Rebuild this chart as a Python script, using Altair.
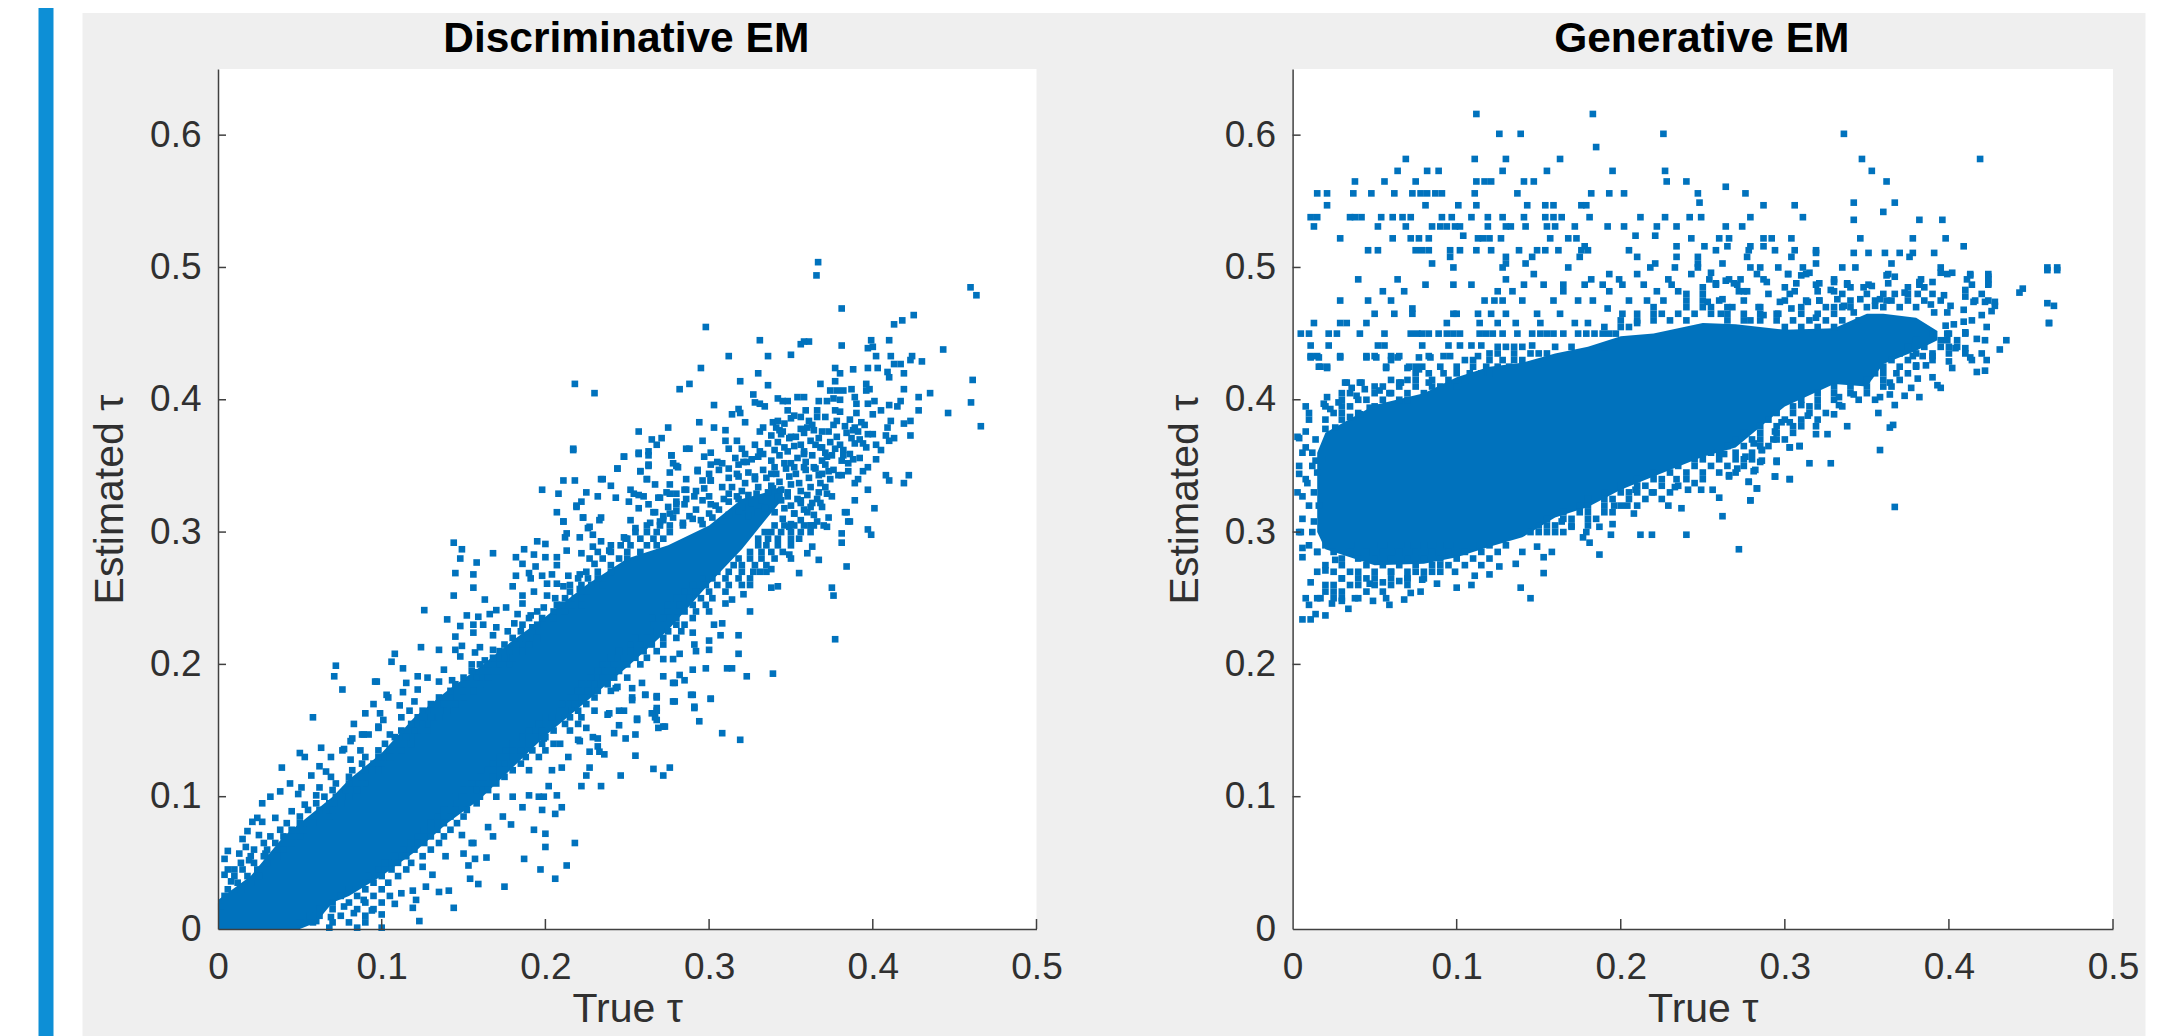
import altair as alt
import pandas as pd

BLUE = "#0072BD"
TEXT = "#303030"
x_ticks = [0, 0.1, 0.2, 0.3, 0.4, 0.5]
y_ticks = [0, 0.1, 0.2, 0.3, 0.4, 0.5, 0.6]

# Solid (fully overplotted) part of each cloud, read as lower/upper edges
disc_core_x = [0, .02, .04, .05, .06, .07, .08, .10, .12, .14, .16, .18, .20, .225, .25, .275, .30, .32, .335, .345]
disc_core_hi = [.022, .04, .07, .08, .09, .10, .113, .133, .16, .18, .198, .218, .236, .26, .28, .29, .305, .325, .33, .335]
disc_core_lo = [0, 0, 0, 0, .005, .02, .025, .04, .058, .08, .098, .122, .146, .172, .198, .226, .261, .287, .31, .325]

gen_core_x = [.015, .02, .05, .08, .10, .12, .14, .16, .18, .20, .22, .25, .27, .30, .33, .35, .36, .38, .393]
gen_core_hi = [.36, .375, .396, .405, .417, .425, .428, .435, .44, .448, .45, .458, .457, .453, .454, .465, .465, .462, .452]
gen_core_lo = [.30, .287, .275, .276, .281, .289, .296, .311, .319, .332, .342, .357, .364, .395, .412, .41, .427, .437, .445]

disc_points_top = [
(.3666,.504),(.3656,.494),(.4597,.485),(.4633,.479),(.381,.469),(.425,.464),(.418,.460),(.413,.457),(.298,.455),(.331,.445),
(.361,.444),(.358,.444),(.356,.442),(.381,.441),(.399,.445),(.410,.445),(.397,.439),(.400,.440),(.402,.433),(.411,.433),
(.443,.438),(.312,.433),(.336,.433),(.350,.434),(.295,.424),(.424,.433),(.423,.430),(.413,.427),(.417,.427),(.430,.429),
(.377,.424),(.380,.420),(.388,.423),(.397,.424),(.403,.424),(.409,.421),(.410,.417),(.419,.420),(.330,.420),(.319,.414),
(.288,.412),(.282,.408),(.336,.411),(.377,.414),(.368,.412),(.218,.412),(.230,.405),(.461,.415),(.419,.408),(.435,.405),
(.428,.402),(.460,.398),(.446,.390),(.428,.392),(.466,.380),(.374,.407),(.378,.407),(.382,.407),(.387,.408),(.396,.412),
(.398,.408),(.396,.407),(.354,.402),(.358,.402),(.327,.404),(.342,.401),(.345,.399),(.348,.399),(.303,.396),(.328,.398),
(.331,.397),(.334,.395),(.367,.399),(.372,.399),(.376,.401),(.380,.400),(.389,.402),(.390,.397),(.397,.397),(.401,.399),
(.410,.396),(.415,.395),(.417,.399),(.318,.393),(.319,.390),(.314,.389),(.348,.392),(.359,.392),(.366,.392),(.377,.392),
(.380,.391),(.390,.390),(.400,.389),(.405,.392),(.294,.383),(.322,.383),(.303,.379),(.310,.377),(.275,.379),(.257,.376),
(.339,.383),(.342,.384),(.350,.386),(.356,.387),(.366,.387),(.378,.384),(.393,.383),(.411,.384),(.423,.384),(.419,.382),
(.331,.376),(.333,.379),(.343,.377),(.360,.379),(.364,.377),(.388,.377),(.397,.374),(.408,.373),(.409,.379),(.423,.373),
(.413,.371),(.410,.369),(.265,.370),(.271,.371),(.268,.366),(.296,.369),(.310,.369),(.317,.369),(.328,.366),(.336,.367),
(.344,.374),(.350,.372),(.217,.363),(.263,.361),(.257,.360),(.286,.363),(.288,.363),(.312,.363),(.320,.363),(.333,.359),
(.346,.364),(.358,.359),(.369,.364),(.372,.357),(.382,.362),(.389,.367),(.396,.364),(.402,.366),(.405,.362),(.277,.358),
(.248,.357),(.297,.357),(.301,.360),(.305,.353),(.321,.353),(.326,.355),(.263,.350),(.278,.352),(.281,.349),(.244,.348),
(.258,.346),(.276,.345),(.293,.346),(.308,.352),(.340,.349),(.350,.352),(.358,.349),(.364,.349),(.388,.355),(.385,.352),
(.385,.346),(.402,.355),(.397,.349),(.394,.346),(.379,.343),(.381,.343),(.410,.339),(.408,.343),(.422,.343),(.419,.337),
(.391,.340),(.389,.337),(.397,.332),(.389,.324),(.401,.318),(.383,.315),(.386,.308),(.397,.302),(.399,.298),(.381,.299),
(.369,.344),(.371,.334),(.375,.327),(.369,.319),(.373,.311),(.363,.322),(.362,.305),(.211,.339),(.218,.339),(.234,.340),
(.240,.335),(.225,.330),(.232,.327),(.243,.326),(.252,.332),(.257,.328),(.251,.323),(.262,.340),(.267,.336),(.276,.336),
(.286,.340),(.301,.339),(.269,.326),(.274,.330),(.286,.332),(.297,.333),(.308,.334),(.317,.344),(.328,.342),(.338,.344),
(.219,.320),(.257,.318),(.263,.321),(.234,.311),(.223,.311),(.227,.304),(.252,.309),(.264,.307),(.211,.308),(.213,.299),
(.248,.296),(.276,.314),(.286,.325),(.291,.327),(.280,.321),(.301,.321),(.309,.325),(.317,.327),(.329,.329),(.339,.333),
(.348,.327),(.356,.324),(.360,.315),(.352,.314),(.349,.304),
]

# Crowded cluster at the top end of the discriminative cloud
disc_points_cluster = [
(.352,.388),(.361,.384),(.371,.387),(.376,.381),(.386,.385),(.389,.379),(.341,.379),(.346,.382),(.356,.378),(.363,.381),
(.369,.376),(.383,.380),(.391,.376),(.395,.381),(.338,.373),(.345,.376),(.353,.372),(.358,.375),(.367,.371),(.373,.376),
(.378,.372),(.384,.375),(.392,.370),(.400,.374),(.342,.368),(.349,.371),(.356,.366),(.362,.369),(.368,.364),(.374,.368),
(.380,.366),(.387,.371),(.394,.367),(.340,.362),(.352,.365),(.358,.361),(.365,.366),(.371,.360),(.377,.363),(.382,.358),
(.322,.359),(.331,.361),(.343,.358),(.348,.361),(.354,.356),(.363,.358),(.369,.354),(.375,.358),(.381,.354),(.386,.359),
(.392,.356),(.316,.356),(.323,.353),(.330,.357),(.338,.354),(.346,.352),(.352,.349),(.359,.353),(.365,.348),(.371,.351),
(.376,.347),(.301,.351),(.312,.348),(.318,.351),(.333,.347),(.341,.344),(.347,.348),(.353,.344),(.359,.347),(.367,.343),
(.373,.346),(.300,.344),(.306,.347),(.318,.342),(.324,.345),(.335,.341),(.343,.338),(.349,.342),(.355,.337),(.361,.341),
(.368,.337),(.374,.340),(.296,.339),(.312,.341),(.322,.337),(.328,.340),(.338,.335),(.344,.332),(.350,.336),(.356,.331),
(.362,.334),(.367,.330),(.314,.334),(.320,.331),(.330,.334),(.336,.330),(.342,.327),(.348,.330),(.354,.325),(.360,.328),
(.366,.325),(.372,.329),(.280,.329),(.292,.331),(.300,.327),(.312,.329),(.318,.325),(.324,.328),(.332,.324),(.338,.321),
(.344,.324),(.350,.320),(.356,.322),(.362,.319),(.368,.322),(.270,.326),(.280,.323),(.296,.324),(.304,.320),(.312,.323),
(.320,.319),(.326,.322),(.334,.318),(.340,.315),(.346,.318),(.352,.314),(.358,.317),(.364,.313),(.275,.319),(.285,.321),
(.292,.317),(.300,.314),(.306,.317),(.312,.313),(.318,.316),(.324,.312),(.330,.315),(.266,.315),(.272,.312),(.280,.316),
(.288,.312),(.295,.309),(.302,.311),(.308,.308),(.345,.310),(.350,.306),(.356,.309),(.362,.305),(.366,.308),(.372,.304),
(.270,.308),(.278,.311),(.284,.307),(.290,.310),(.296,.306),
]

disc_points_upper = [
(.217,.362),(.248,.357),(.257,.359),(.263,.358),(.277,.358),(.244,.348),(.263,.351),(.280,.350),(.258,.346),(.262,.340),
(.235,.340),(.198,.332),(.208,.329),(.254,.329),(.260,.327),(.276,.329),(.285,.332),(.293,.347),(.301,.339),(.222,.323),
(.219,.319),(.207,.315),(.211,.308),(.223,.311),(.233,.309),(.267,.315),(.226,.303),(.229,.298),(.255,.303),(.272,.309),
(.249,.295),(.212,.296),(.221,.296),(.234,.293),(.144,.292),(.149,.287),(.195,.293),(.200,.291),(.187,.287),(.213,.286),
(.229,.289),(.239,.286),(.168,.284),(.182,.281),(.193,.283),(.200,.281),(.207,.281),(.222,.284),(.148,.280),(.158,.277),
(.186,.276),(.194,.274),(.207,.275),(.227,.280),(.230,.276),(.145,.269),(.156,.268),(.182,.267),(.190,.269),(.198,.267),
(.204,.268),(.214,.267),(.221,.268),(.180,.259),(.156,.258),(.191,.265),(.201,.261),(.207,.261),(.144,.252),(.163,.249),
(.186,.252),(.193,.255),(.201,.252),(.211,.259),(.221,.257),(.126,.241),(.176,.243),(.170,.241),(.166,.238),(.186,.246),
(.199,.243),(.191,.237),(.140,.234),(.152,.237),(.159,.236),(.183,.238),(.207,.245),(.148,.229),(.156,.230),(.162,.230),
(.170,.228),(.181,.231),(.192,.228),(.145,.221),(.156,.224),(.168,.222),(.177,.225),(.149,.214),(.124,.213),(.135,.211),
(.160,.213),(.108,.208),(.145,.211),(.157,.209),(.168,.211),(.106,.202),(.113,.197),(.148,.206),(.155,.200),(.163,.203),
(.072,.199),(.071,.191),(.076,.181),(.097,.187),(.138,.196),(.158,.194),(.122,.191),(.128,.190),(.115,.186),(.135,.187),
(.143,.188),(.113,.179),(.104,.175),(.122,.181),(.120,.172),(.095,.170),(.111,.169),(.090,.163),(.099,.163),(.117,.165),
(.083,.155),(.101,.158),(.112,.160),(.089,.147),(.098,.153),(.082,.144),(.105,.147),(.077,.136),
(.096,.187),(.103,.177),(.058,.160),(.098,.152),(.092,.147),(.088,.147),(.081,.142),(.063,.137),(.076,.135),(.069,.130),
(.050,.133),(.053,.130),(.081,.128),(.087,.135),(.039,.122),(.062,.123),(.066,.119),(.057,.116),(.069,.115),(.044,.110),
(.051,.107),(.062,.107),(.038,.104),(.032,.100),(.027,.095),(.049,.102),(.060,.101),(.053,.094),(.045,.089),(.035,.084),
(.024,.084),(.021,.081),(.027,.081),(.018,.074),(.015,.068),(.025,.071),(.017,.062),(.006,.059),(.013,.057),(.004,.053),
(.029,.057),(.010,.045),(.006,.045),(.004,.041),(.019,.052),(.008,.036),(.002,.017),
]

disc_points_lower = [
(.384,.315),(.385,.308),(.381,.292),(.384,.274),(.355,.269),(.338,.272),(.367,.279),(.360,.284),(.363,.289),(.349,.283),
(.331,.270),(.338,.258),(.342,.259),(.375,.258),(.376,.252),(.325,.260),(.321,.253),(.314,.249),(.310,.246),(.325,.240),
(.308,.231),(.318,.222),(.307,.222),(.377,.219),(.303,.230),(.300,.218),(.318,.208),(.300,.211),(.292,.210),(.291,.215),
(.282,.208),(.290,.224),(.311,.197),(.314,.197),(.323,.191),(.339,.193),(.298,.197),(.290,.196),(.282,.192),(.272,.191),
(.278,.186),(.272,.204),(.278,.204),(.259,.186),(.290,.177),(.301,.174),(.278,.172),(.291,.168),(.268,.175),(.261,.177),
(.268,.165),(.294,.157),(.272,.153),(.267,.160),(.308,.148),(.319,.143),(.255,.147),(.249,.144),(.242,.148),(.245,.154),
(.256,.159),(.248,.165),(.238,.162),(.253,.175),(.243,.182),(.229,.145),(.220,.143),(.209,.140),(.199,.144),(.225,.152),
(.232,.138),(.301,.174),(.291,.167),(.289,.177),(.279,.172),(.269,.152),(.273,.153),(.268,.176),(.268,.167),(.268,.158),
(.255,.131),(.233,.134),(.236,.132),(.227,.134),(.227,.122),(.225,.116),(.222,.108),(.234,.108),(.246,.116),(.266,.121),
(.272,.116),(.276,.122),(.202,.108),(.207,.101),(.210,.092),(.206,.087),(.198,.090),(.199,.100),(.186,.092),(.193,.075),
(.200,.072),(.200,.062),(.218,.065),(.187,.053),(.213,.048),(.197,.045),(.206,.038),(.175,.032),(.159,.034),(.154,.038),
(.164,.054),(.157,.053),(.153,.048),(.168,.070),(.179,.079),(.174,.085),(.165,.077),(.156,.065),(.144,.016),(.123,.006),
(.119,.016),(.108,.019),(.121,.022),(.135,.028),(.141,.029),(.127,.032),(.131,.041),(.125,.047),(.119,.029),(.112,.027),
(.100,.011),(.100,.001),(.094,.014),(.085,.001),(.068,.001),(.069,.009),(.060,.006),(.083,.012),(.077,.017),(.089,.022),
(.149,.071),(.155,.065),(.150,.057),(.139,.055),(.204,.120),(.210,.122),(.190,.101),(.196,.100),(.180,.100),(.221,.142),
(.214,.130),(.232,.144),(.239,.163),(.245,.165),(.253,.173),(.261,.177),(.256,.158),(.265,.163),(.244,.183),(.253,.182),
(.279,.186),(.285,.188),
]

# Crowded speckle along both sides of the solid band, read row by row (estimated y: x positions)
disc_rows = {
.305:[.262,.270,.276,.284,.340,.346,.352,.358,.364,.370],
.300:[.255,.262,.268,.276,.334,.338,.344,.350,.356,.362],
.295:[.250,.258,.266,.272,.330,.336,.342,.350,.355],
.290:[.240,.246,.252,.262,.268,.330,.335,.342,.350],
.285:[.232,.240,.250,.258,.325,.332,.338,.345],
.280:[.235,.245,.250,.318,.325,.332,.340,.350],
.275:[.240,.315,.320,.328,.335],
.270:[.225,.232,.240,.305,.312,.320,.327,.335],
.265:[.220,.226,.232,.296,.302,.310,.318,.325],
.260:[.215,.222,.228,.235,.290,.298,.305,.312,.320],
.255:[.215,.222,.285,.292,.300,.310],
.250:[.206,.212,.218,.225,.280,.288,.295,.302],
.245:[.210,.216,.222,.275,.282,.290,.298],
.240:[.195,.205,.212,.275,.285,.292,.300],
.235:[.190,.198,.205,.265,.272,.280,.290],
.230:[.186,.195,.202,.262,.270,.280,.285],
.225:[.185,.192,.260,.268,.275,.283],
.220:[.180,.188,.195,.255,.262,.272,.280],
.215:[.175,.182,.190,.252,.258,.265,.272],
.210:[.172,.178,.186,.245,.252,.260,.268],
.205:[.168,.175,.180,.240,.248,.255,.262],
.200:[.160,.165,.172,.178,.235,.242,.250,.258],
.195:[.155,.162,.170,.232,.238,.245],
.190:[.150,.158,.165,.228,.235,.242,.250],
.185:[.145,.152,.160,.222,.230,.238],
.180:[.142,.150,.156,.220,.226,.232,.240],
.175:[.135,.142,.150,.215,.222,.230],
.170:[.130,.138,.145,.210,.218,.225],
.165:[.125,.132,.140,.205,.212,.220,.230],
.160:[.122,.130,.135,.200,.208,.215,.222],
.155:[.118,.125,.132,.196,.204,.212,.220],
.150:[.112,.120,.128,.190,.198,.205,.215],
.145:[.108,.115,.122,.186,.194,.200],
.140:[.102,.110,.118,.180,.190,.198,.205],
.135:[.098,.105,.112,.176,.185,.192,.200],
.130:[.090,.098,.105,.172,.180,.188,.196],
.125:[.088,.095,.100,.168,.175,.185],
.120:[.082,.090,.098,.165,.172,.180,.190],
.115:[.080,.088,.160,.168,.175],
.110:[.072,.080,.090,.155,.162,.170],
.105:[.070,.078,.085,.150,.158,.165],
.100:[.065,.072,.080,.145,.152,.160,.170],
.095:[.060,.068,.075,.142,.150,.158],
.090:[.055,.062,.070,.138,.145,.152],
.085:[.050,.060,.068,.134,.142,.150],
.080:[.042,.050,.058,.130,.138,.146],
.075:[.038,.045,.052,.126,.134,.142],
.070:[.032,.040,.050,.122,.130,.138],
.065:[.028,.035,.045,.118,.126,.135],
.060:[.022,.030,.040,.113,.120,.130],
.055:[.020,.028,.036,.108,.115,.125],
.050:[.014,.022,.030,.102,.110,.118],
.045:[.015,.024,.098,.106,.115],
.040:[.010,.018,.025,.092,.100,.110],
.035:[.012,.020,.086,.095,.104],
.030:[.006,.014,.080,.090,.100],
.025:[.004,.075,.085,.095,.105],
.020:[.070,.080,.090,.100],
.015:[.062,.070,.085,.095],
.010:[.056,.062,.075,.090],
.005:[.050,.058,.070,.080,.090],
}

# The generative estimates sit on discrete levels at the top of the cloud
gen_rows = {
.616:[.112,.183],
.601:[.126,.139,.226,.336],
.591:[.185],
.582:[.069,.111,.130,.163,.347,.419],
.573:[.064,.082,.089,.128,.155,.195,.227,.353],
.565:[.038,.056,.075,.112,.117,.121,.141,.147,.228,.240,.362],
.561:[.264],
.556:[.015,.021,.037,.048,.062,.073,.078,.082,.087,.091,.111,.137,.182,.193,.202,.247,.276],
.549:[.248,.342,.367],
.547:[.021,.081,.101,.112,.143,.154,.159,.176,.179,.287,.306],
.542:[.360],
.538:[.011,.015,.035,.038,.042,.054,.061,.067,.072,.091,.097,.109,.119,.128,.141,.154,.159,.164,.181,.212,.227,.242,.249,.279,.311],
.536:[.382,.396,.342],
.531:[.013,.052,.069,.085,.090,.094,.099,.102,.119,.130,.133,.142,.155,.160,.172,.192,.202,.222,.234,.264,.274],
.524:[.104,.209,.221],
.522:[.029,.061,.072,.077,.083,.113,.116,.120,.127,.157,.168,.173,.243,.260,.266,.346,.378,.398,.287,.292,.304],
.516:[.409,.178,.234,.251,.265,.279,.287],
.513:[.046,.052,.075,.079,.083,.096,.102,.112,.121,.138,.149,.154,.162,.176,.180,.205,.258,.278,.294,.306,.319],
.511:[.342,.351,.361,.370,.378,.391,.319],
.508:[.096,.130,.146,.175,.210,.234,.247,.277,.304,.376],
.503:[.085,.142,.130,.221,.247,.262,.319,.365],
.500:[.335,.343,.460,.466,.098,.128,.168,.218,.233,.247,.279,.285,.296,.311,.395],
.495:[.147,.193,.210,.243,.302,.313,.363,.399,.413,.424],
.491:[.040,.064,.130,.182,.199,.229,.254,.266,.287,.330,.383,.424],
.487:[.098,.109,.081,.141,.153,.165,.178,.189,.201,.214,.231,.258,.271,.319,.338,.351,.382,.414,.424],
.482:[.055,.068,.125,.134,.165,.193,.222,.235,.275,.306,.330],
.475:[.029,.046,.060,.117,.123,.128,.140,.159,.174,.183,.216,.226,.250,.300,.313,.321,.416,.424],
.469:[.073,.192],
.465:[.050,.062,.073,.098,.100,.113,.121,.130,.149,.163,.201],
.458:[.013,.029,.033,.045,.094,.114,.125,.136,.151,.172,.180,.210,.461],
.450:[.005,.010,.022,.027,.041,.056,.072,.076,.079,.083,.089,.094,.098,.102,.114,.118,.122,.128,.137,.146,.151,.155,.159,.165,.174,.179,.184,.189,.193,.197],
.441:[.011,.022,.052,.056,.079,.095,.102,.109,.115,.146],
.433:[.011,.015,.029,.045,.050,.060,.065,.083,.092,.096,.113],
.425:[.017,.021,.057,.071,.075,.079],
.413:[.033,.041,.066],
}

# Crowded speckle above and below the solid part of the generative cloud
gen_rows_dense = {
.485:[.250,.300,.340,.375,.385],
.480:[.240,.250,.290,.335,.350,.360,.375,.390],
.475:[.205,.240,.260,.340,.355,.365,.375,.385,.395],
.470:[.220,.240,.250,.255,.265,.285,.310,.325,.335,.340,.350,.360,.370,.380],
.465:[.210,.220,.225,.235,.245,.255,.265,.275,.285,.295,.310,.320,.330],
.460:[.200,.210,.220,.230,.240,.265,.275,.285,.295,.305,.315,.325,.335,.345],
.455:[.190,.200,.205,.300,.310,.320,.330],
.450:[.390,.400,.410],
.445:[.380,.395,.405],
.440:[.125,.130,.135,.140,.160,.170,.190,.375,.385,.400],
.435:[.120,.125,.135,.145,.150,.155,.370,.380,.390,.400],
.430:[.105,.110,.120,.128,.135,.140,.365,.375,.390],
.425:[.090,.100,.110,.118,.125,.132,.140,.360,.370,.380],
.420:[.075,.083,.092,.100,.108,.115,.120,.355,.360,.375],
.415:[.060,.070,.075,.085,.095,.105,.350,.360,.370],
.410:[.050,.055,.065,.075,.085,.090,.100,.330,.340,.350,.360,.365],
.405:[.030,.035,.050,.060,.070,.080,.320,.330,.340,.350],
.400:[.030,.040,.045,.055,.065,.070,.310,.320,.330,.345,.355],
.395:[.020,.030,.035,.050,.305,.315,.320,.335],
.390:[.010,.025,.030,.040,.295,.305,.315,.325],
.385:[.010,.020,.030,.290,.300,.310,.320],
.380:[.285,.295,.305,.310],
.375:[.275,.285,.295,.305],
.370:[.014,.270,.280,.285,.295,.300],
.365:[.265,.275,.285,.290],
.360:[.012,.255,.260,.270,.280],
.355:[.018,.245,.250,.260,.270,.280],
.350:[.012,.235,.245,.255,.265,.275],
.345:[.015,.220,.230,.240,.250,.260,.270],
.340:[.210,.220,.225,.240,.250],
.335:[.200,.210,.215,.225,.235],
.330:[.013,.190,.200,.205,.210,.220,.230],
.325:[.180,.190,.195,.205,.215,.225],
.320:[.016,.175,.180,.190,.200,.210],
.315:[.165,.175,.180,.190,.195],
.310:[.155,.165,.170,.180,.185],
.305:[.150,.155,.160,.170,.180],
.300:[.145,.150,.155,.160,.165],
.290:[.020,.030,.040,.050,.060,.070,.080,.090,.100,.110,.120,.130],
.285:[.015,.025,.035,.045,.055,.065,.075,.085,.095,.105,.115,.125,.140],
.280:[.030,.040,.050,.060,.070,.080,.090,.100,.110,.120],
.275:[.020,.030,.045,.055,.065,.075,.085,.095,.105,.115],
.270:[.025,.035,.050,.060,.070,.080,.090],
.265:[.030,.040,.050,.060,.070,.080],
.260:[.025,.040,.050,.060,.070],
.255:[.020,.030,.045,.055],
.250:[.025,.030,.040],
}

gen_points = [
(.445,.484),(.443,.481),(.460,.473),(.464,.471),(.435,.445),(.431,.438),(.422,.422),(.414,.430),(.395,.440),(.405,.440),
(.410,.435),(.006,.234),(.011,.234),(.020,.237),(.014,.238),(.008,.250),(.010,.245),(.017,.250),(.024,.246),(.034,.242),
(.038,.250),(.049,.248),(.057,.250),(.059,.245),(.068,.249),(.078,.255),(.072,.254),(.100,.258),(.109,.260),(.111,.267),
(.120,.268),(.139,.258),(.145,.250),(.153,.269),(.153,.281),(.158,.285),(.187,.283),(.181,.292),(.177,.296),(.194,.298),
(.212,.298),(.219,.298),(.240,.298),(.272,.287),(.262,.312),(.279,.324),(.260,.326),(.256,.332),(.303,.340),(.294,.342),
(.283,.333),(.278,.338),(.295,.354),(.303,.364),(.309,.365),(.208,.314),(.204,.320),(.196,.320),(.195,.306),(.187,.304),
(.179,.300),(.170,.304),(.164,.308),(.149,.289),(.136,.276),(.126,.274),(.099,.270),(.088,.261),(.079,.264),(.006,.281),
(.011,.262),(.026,.279),(.020,.271),(.047,.261),(.237,.318),(.229,.320),(.219,.330),(.233,.334),(.241,.332),(.249,.332),
(.245,.337),(.234,.340),(.209,.332),(.266,.342),(.281,.346),(.286,.362),(.285,.353),(.276,.357),
(.011,.432),(.016,.432),(.029,.432),(.045,.432),(.051,.432),(.016,.425),(.021,.424),(.057,.424),(.070,.424),(.077,.423),
(.060,.430),(.064,.432),(.077,.432),(.084,.432),(.032,.413),(.042,.413),(.036,.409),(.065,.413),(.083,.413),(.021,.402),
(.008,.395),(.019,.397),(.028,.398),(.023,.393),(.039,.403),(.044,.408),(.053,.407),(.059,.405),(.035,.387),(.041,.389),
(.047,.394),(.004,.371),(.008,.376),(.020,.378),(.026,.379),(.004,.344),(.006,.327),(.005,.300),(.008,.364),(.014,.354),
(.009,.337),(.013,.308),(.003,.372),(.006,.360),(.004,.350),(.008,.340),(.003,.330),(.010,.320),(.006,.310),(.012,.300),
(.004,.300),(.010,.290),(.015,.285),(.006,.288),(.015,.270),(.020,.260),(.025,.255),(.030,.265),(.035,.260),(.040,.270),
(.045,.265),(.055,.262),(.060,.270),(.065,.263),(.070,.265),(.075,.270),(.085,.270),(.090,.275),(.015,.250),(.030,.248),
(.461,.458),(.466,.498),(.460,.498),(.424,.493),(.424,.488),(.410,.483),(.410,.478),(.411,.491),(.413,.494),(.402,.496),
(.395,.496),(.420,.480),(.415,.474),(.422,.474),(.428,.474),(.428,.471),(.426,.467),(.420,.464),(.414,.460),(.409,.459),
(.403,.457),(.398,.456),(.423,.455),(.410,.451),(.417,.446),(.422,.445),(.399,.450),(.399,.445),(.404,.439),(.410,.439),
(.420,.435),(.423,.430),(.413,.432),(.400,.429),(.402,.424),(.417,.421),(.390,.433),(.384,.433),(.380,.426),(.386,.426),
(.378,.433),(.390,.417),(.393,.411),(.395,.409),(.381,.416),(.377,.409),(.382,.402),(.373,.403),(.368,.420),(.364,.413),
(.364,.404),(.367,.396),(.357,.390),(.358,.402),(.366,.381),(.364,.379),(.358,.362),(.367,.319),(.342,.404),(.338,.380),
(.326,.374),(.319,.380),(.319,.374),(.333,.396),(.330,.389),(.314,.388),(.328,.352),(.315,.352),(.309,.365),(.303,.364),
(.295,.353),(.303,.340),(.294,.342),(.279,.324),(.283,.333),(.278,.338),(.286,.362),(.282,.347),(.271,.348),(.266,.343),
(.286,.354),(.275,.355),(.263,.359),(.293,.370),(.281,.367),(.298,.383),(.303,.383),(.294,.376),(.310,.396),(.333,.402),
(.253,.474),(.262,.476),(.268,.470),(.284,.470),(.287,.464),(.275,.475),(.258,.488),(.264,.490),(.269,.488),(.273,.491),
(.272,.482),(.277,.482),(.289,.489),(.255,.496),(.283,.495),(.302,.495),(.310,.494),(.315,.496),(.307,.488),(.321,.488),
(.330,.489),(.338,.488),(.348,.485),(.353,.486),(.328,.483),(.320,.482),(.303,.480),(.297,.474),(.314,.474),(.321,.475),
(.332,.476),(.346,.476),(.336,.471),(.362,.494),(.367,.493),(.363,.488),(.382,.489),(.390,.489),(.381,.480),(.373,.481),
(.367,.480),(.397,.479),(.389,.472),(.401,.471),(.358,.476),(.362,.475),(.399,.466),(.391,.466),(.409,.468),(.261,.465),
(.279,.460),(.296,.465),(.304,.469),(.319,.462),(.330,.470),(.342,.466),(.355,.471),
]

disc_all = (disc_points_top + disc_points_cluster + disc_points_upper + disc_points_lower
            + [(x, y) for y, xs in disc_rows.items() for x in xs])
gen_all = ([(x, y) for y, xs in gen_rows.items() for x in xs]
           + [(x, y) for y, xs in gen_rows_dense.items() for x in xs] + gen_points)

HEIGHT = 860
one = pd.DataFrame({"a": [0]})


def panel(title, pts, core_x, core_lo, core_hi, width, decor):
    df = pd.DataFrame(pts, columns=["x", "y"])
    core = pd.DataFrame({"x": core_x, "lo": core_lo, "hi": core_hi})
    xs = alt.Scale(domain=[0, 0.5], nice=False, zero=False)
    ys = alt.Scale(domain=[0, 0.65], nice=False, zero=False)
    common = dict(domainColor="#404040", domainWidth=1.5, ticks=False, grid=False,
                  labelFont="Liberation Sans", labelFontSize=37, labelColor=TEXT,
                  titleFont="Liberation Sans", titleFontSize=41, titleColor=TEXT,
                  titleFontWeight="normal", format=".1~f", labelFlush=False,
                  labelOverlap=False, zindex=1)
    layers = []
    if decor:
        layers.append(alt.Chart(one).mark_rect(color="#0D8FD6").encode(
            x=alt.value(-179.5), x2=alt.value(-164.5), y=alt.value(-61), y2=alt.value(967)))
        layers.append(alt.Chart(one).mark_rect(color="#EFEFEF").encode(
            x=alt.value(-135.5), x2=alt.value(1927.5), y=alt.value(-56), y2=alt.value(967)))
    layers.append(alt.Chart(one).mark_rect(color="white").encode(
        x=alt.value(0), x2=alt.value(width), y=alt.value(0), y2=alt.value(HEIGHT)))
    layers.append(alt.Chart(core).mark_area(color=BLUE, opacity=1).encode(
        x=alt.X("x:Q", scale=xs, title="True τ",
                axis=alt.Axis(values=x_ticks, labelPadding=20, titlePadding=4, **common)),
        y=alt.Y("hi:Q", scale=ys, title="Estimated τ",
                axis=alt.Axis(values=y_ticks, labelPadding=17, titlePadding=18, **common)),
        y2="lo:Q"))
    layers.append(alt.Chart(df).mark_square(color=BLUE, size=44, opacity=1).encode(
        x=alt.X("x:Q", scale=xs), y=alt.Y("y:Q", scale=ys)))
    layers.append(alt.Chart(pd.DataFrame({"t": x_ticks[1:]})).mark_rule(color="#404040", strokeWidth=1.5).encode(
        x=alt.X("t:Q", scale=xs), y=alt.value(HEIGHT - 10), y2=alt.value(HEIGHT)))
    layers.append(alt.Chart(pd.DataFrame({"t": y_ticks[1:]})).mark_rule(color="#404040", strokeWidth=1.5).encode(
        y=alt.Y("t:Q", scale=ys), x=alt.value(0), x2=alt.value(8)))
    layers.append(alt.Chart(pd.DataFrame({"t": [title]})).mark_text(
        font="Liberation Sans", fontSize=42.5, fontWeight="bold", color="black",
        align="center", baseline="alphabetic").encode(
        text="t:N", x=alt.value(width / 2 - 1), y=alt.value(-17)))
    return alt.layer(*layers).properties(width=width, height=HEIGHT)


left = panel("Discriminative EM", disc_all, disc_core_x, disc_core_lo, disc_core_hi, 818.5, True)
right = panel("Generative EM", gen_all, gen_core_x, gen_core_lo, gen_core_hi, 820.4, False)

chart = alt.hconcat(left, right, spacing=255.6, bounds="flush").properties(
    padding={"left": 30, "top": 0, "right": 0, "bottom": 0},
    background="transparent",
).configure_view(strokeWidth=0)

chart.save("out.html", embed_options={"renderer": "svg", "actions": False})
